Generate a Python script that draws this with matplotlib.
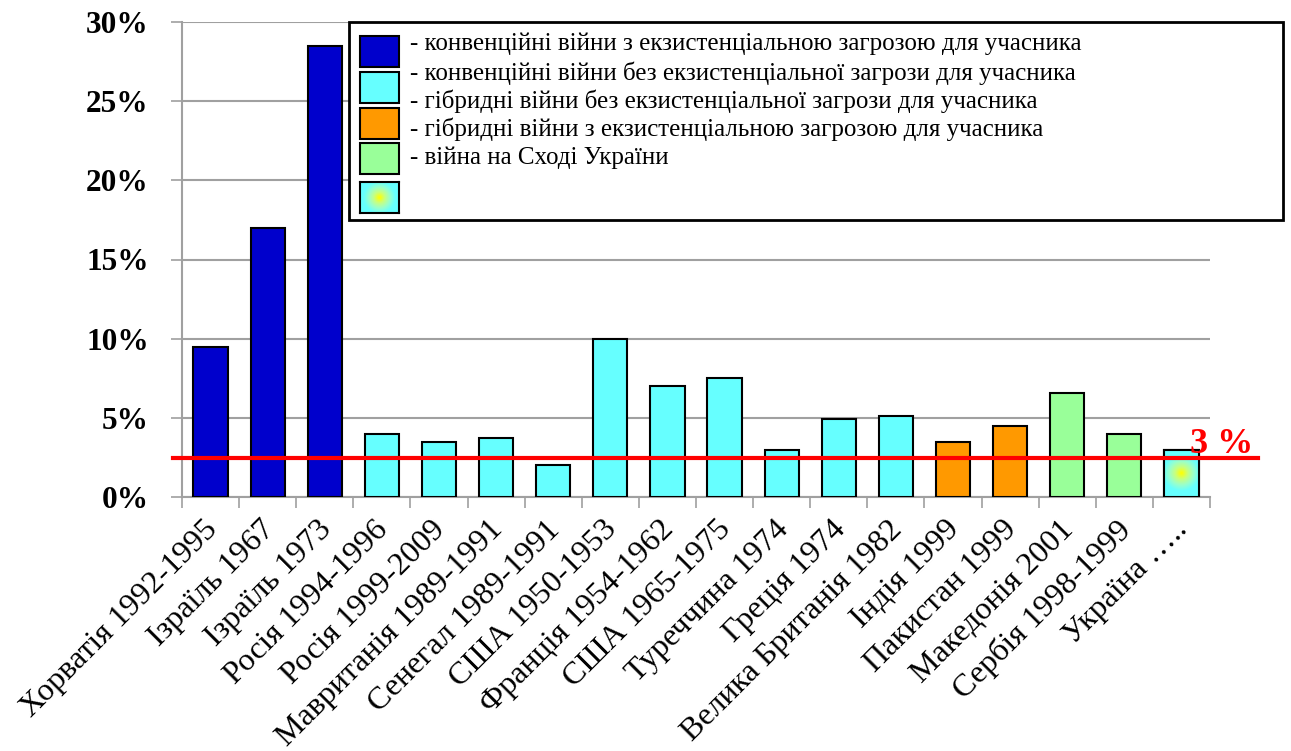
import numpy as np
import matplotlib.pyplot as plt
from matplotlib.colors import LinearSegmentedColormap
from matplotlib.patches import Rectangle
from matplotlib.transforms import ScaledTranslation

plt.rcParams['font.family'] = ['Liberation Serif', 'DejaVu Serif']

labels = ['Хорватія 1992-1995', 'Ізраїль 1967', 'Ізраїль 1973', 'Росія 1994-1996',
          'Росія 1999-2009', 'Мавританія 1989-1991', 'Сенегал 1989-1991',
          'США 1950-1953', 'Франція 1954-1962', 'США 1965-1975', 'Туреччина 1974',
          'Греція 1974', 'Велика Британія 1982', 'Індія 1999', 'Пакистан 1999',
          'Македонія 2001', 'Сербія 1998-1999', 'Україна …..']
values = [9.5, 17.0, 28.5, 4.0, 3.5, 3.7, 2.0, 10.0, 7.0, 7.5, 3.0, 4.9, 5.1,
          3.5, 4.5, 6.6, 4.0, 3.0]
kinds = ['conv_threat'] * 3 + ['conv'] * 10 + ['hybrid'] * 2 + ['hybrid_threat'] * 2 + ['ukraine']

legend_kinds = ['conv_threat', 'conv', 'hybrid', 'hybrid_threat', 'ukraine']
legend_labels = ['- конвенційні війни з екзистенціальною загрозою для учасника',
                 '- конвенційні війни без екзистенціальної загрози для учасника',
                 '- гібридні війни без екзистенціальної загрози для учасника',
                 '- гібридні війни з екзистенціальною загрозою для учасника',
                 '- війна на Сході України']

threshold = 2.45
threshold_label = '3 %'

colors = {'conv_threat': '#0000CC', 'conv': '#66FFFF', 'hybrid': '#FF9900',
          'hybrid_threat': '#99FF99', 'ukraine': '#66FFFF'}
grey = '#A0A0A0'
glow = LinearSegmentedColormap.from_list('glow', ['#FFFF00', '#C8FF80', '#99FFCC', '#66FFFF'])


def glow_image(w_px, h_px, radius=18.0):
    yy, xx = np.mgrid[-0.5:0.5:120j, -0.5:0.5:120j]
    r = np.clip(np.hypot(xx * w_px, yy * h_px) / radius, 0, 1)
    return r


W, H = 1291, 751
fig = plt.figure(figsize=(W / 100, H / 100), dpi=100)
ax = fig.add_axes([182 / W, 1 - 497 / H, 1028 / W, 475 / H])

x = np.arange(len(values))
bars = ax.bar(x, values, width=0.6, color=[colors[k] for k in kinds],
              edgecolor='black', linewidth=1.5, zorder=3)

# radial yellow glow inside the Ukraine bar
last = bars[-1]
x0, w = last.get_x(), last.get_width()
im = ax.imshow(glow_image(34, 48), cmap=glow, extent=(x0, x0 + w, 0, values[-1]),
               aspect='auto', zorder=3.2, interpolation='bicubic')
im.set_clip_path(last)
ax.bar(x[-1:], values[-1:], width=0.6, fill=False, edgecolor='black', linewidth=1.5, zorder=3.4)

ax.axhline(threshold, xmin=-9 / 1028, xmax=(1258 - 182) / 1028, color='red', lw=3,
           clip_on=False, zorder=5)
ax.text(x[-1] + 0.15, 2.78, threshold_label, color='red', fontsize=26,
        fontweight='bold', ha='left', va='baseline', zorder=6)

ax.set_xlim(-0.5, len(values) - 0.5)
ax.set_ylim(0, 30)
ax.set_yticks(np.arange(0, 31, 5))
ax.set_yticklabels([f'{v}%' for v in range(0, 31, 5)], fontsize=22.5, fontweight='bold')
ax.yaxis.grid(True, color=grey, lw=1.5)
ax.set_axisbelow(True)
for s in ['top', 'right']:
    ax.spines[s].set_visible(False)
for s in ['left', 'bottom']:
    ax.spines[s].set_color(grey)
    ax.spines[s].set_linewidth(1.5)
ax.tick_params(axis='y', length=8, width=1.2, color=grey, pad=16)

ax.set_xticks(x)
ax.set_xticks(np.arange(-0.5, len(values), 1), minor=True)
ax.tick_params(axis='x', which='major', length=0, pad=13)
ax.tick_params(axis='x', which='minor', length=8, width=1.2, color=grey)
ax.set_xticklabels(labels, fontsize=23)
shift = ScaledTranslation(-0.08, 0, fig.dpi_scale_trans)
for lbl in ax.get_xticklabels():
    lbl.set_rotation(45)
    lbl.set_ha('right')
    lbl.set_va('top')
    lbl.set_rotation_mode('anchor')
    lbl.set_transform(lbl.get_transform() + shift)


# legend box drawn in figure pixels
def fr(px, py):
    return px / W, 1 - py / H


bx, by = fr(349, 220)
fig.add_artist(Rectangle((bx, by), 934 / W, 198 / H, transform=fig.transFigure,
                         facecolor='white', edgecolor='black', lw=2, zorder=10))
patch_tops = [36, 72, 108, 143, 182]
text_rows = [44, 73, 101, 129, 158]
for kind, text, top, row in zip(legend_kinds, legend_labels, patch_tops, text_rows):
    px, py = fr(360, top + 31)
    if kind == 'ukraine':
        lax = fig.add_axes([px, py, 39 / W, 31 / H], zorder=11)
        lax.imshow(glow_image(39, 31, radius=16), cmap=glow, aspect='auto',
                   interpolation='bicubic')
        lax.set_xticks([])
        lax.set_yticks([])
        for sp in lax.spines.values():
            sp.set_linewidth(1.5)
    else:
        fig.add_artist(Rectangle((px, py), 39 / W, 31 / H, transform=fig.transFigure,
                                 facecolor=colors[kind], edgecolor='black', lw=1.5, zorder=11))
    tx, ty = fr(410, row)
    fig.text(tx, ty, text, fontsize=18, va='center', ha='left', zorder=12)

fig.savefig('out.png', dpi=100)
